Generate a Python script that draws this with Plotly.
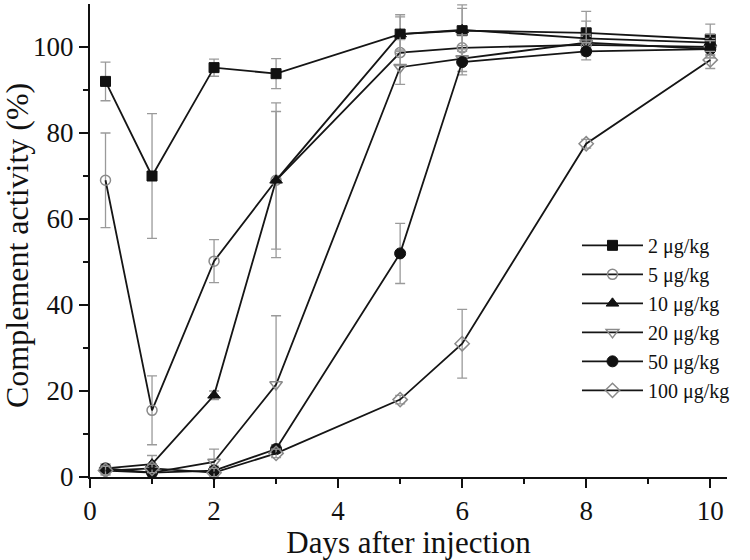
import plotly.graph_objects as go

days = [0.25, 1, 2, 3, 5, 6, 8, 10]

series_names = ["2 μg/kg", "5 μg/kg", "10 μg/kg", "20 μg/kg", "50 μg/kg", "100 μg/kg"]

dose_2 = [92, 70, 95.2, 93.8, 103, 103.8, 103.3, 101.8]
dose_2_err = [4.5, 14.5, 2, 3.5, 4.5, 6, 5, 3.5]

dose_5 = [69, 15.5, 50.2, 69, 98.7, 99.8, 100.5, 100]
dose_5_err = [11, 8, 5, 18, 3, 3, 2, 2]

dose_10 = [2, 3, 19, 69, 103, 104, 102, 101]
dose_10_err = [1, 2, 1, 16, 4, 5, 4, 2]

dose_20 = [1.5, 1, 3.5, 21.5, 95.3, 97.3, 101, 99.5]
dose_20_err = [1, 1, 3, 16, 4, 3, 2, 2]

dose_50 = [2, 1, 1.5, 6.5, 52, 96.5, 99, 99.5]
dose_50_err = [1, 1, 1, 1, 7, 3, 2, 2]

dose_100 = [1.5, 2, 1, 5.5, 18, 31, 77.5, 97]
dose_100_err = [1, 1, 1, 1, 1, 8, 1, 2]

values = [dose_2, dose_5, dose_10, dose_20, dose_50, dose_100]
errors = [dose_2_err, dose_5_err, dose_10_err, dose_20_err, dose_50_err, dose_100_err]

marker_styles = [
    dict(symbol="square", size=10, color="#111111", line=dict(color="#111111", width=1)),
    dict(symbol="circle-open", size=10, color="#8a8a8a", line=dict(color="#8a8a8a", width=1.5)),
    dict(symbol="triangle-up", size=11, color="#111111", line=dict(color="#111111", width=1)),
    dict(symbol="triangle-down-open", size=11, color="#8a8a8a", line=dict(color="#8a8a8a", width=1.5)),
    dict(symbol="circle", size=11, color="#111111", line=dict(color="#111111", width=1)),
    dict(symbol="diamond-open", size=11, color="#8a8a8a", line=dict(color="#8a8a8a", width=1.5)),
]

fig = go.Figure()
for name, ys, es, mk in zip(series_names, values, errors, marker_styles):
    fig.add_trace(go.Scatter(
        x=days, y=ys, name=name, mode="lines+markers",
        line=dict(color="#151515", width=1.8),
        marker=mk,
        error_y=dict(type="data", array=es, visible=True, color="#9a9a9a", thickness=1.3, width=5),
        cliponaxis=False,
    ))

font_family = "Liberation Serif, Times New Roman, serif"

fig.update_layout(
    width=750, height=560,
    margin=dict(l=90, r=23, t=4, b=83, autoexpand=False),
    paper_bgcolor="white", plot_bgcolor="white",
    font=dict(family=font_family, color="#111111", size=26),
    showlegend=True,
    legend=dict(
        x=0.7645, y=0.531, xanchor="left", yanchor="top",
        bgcolor="rgba(0,0,0,0)", borderwidth=0,
        font=dict(family=font_family, size=20, color="#111111"),
        itemwidth=61, tracegroupgap=0,
    ),
    xaxis=dict(
        range=[0, 10.27], showgrid=False, zeroline=False, automargin=False,
        showline=True, linecolor="#111111", linewidth=2,
        ticks="outside", ticklen=9, tickwidth=2, tickcolor="#111111",
        tickvals=[0, 2, 4, 6, 8, 10],
        minor=dict(tickvals=[1, 3, 5, 7, 9], ticks="outside", ticklen=5, tickwidth=1.5, tickcolor="#111111"),
        tickfont=dict(family=font_family, size=27),
        title=dict(text="Days after injection", font=dict(family=font_family, size=31), standoff=2),
    ),
    yaxis=dict(
        range=[0, 110], showgrid=False, zeroline=False, automargin=False,
        showline=True, linecolor="#111111", linewidth=2,
        ticks="outside", ticklen=9, tickwidth=2, tickcolor="#111111",
        tickvals=[0, 20, 40, 60, 80, 100],
        minor=dict(tickvals=[10, 30, 50, 70, 90], ticks="outside", ticklen=5, tickwidth=1.5, tickcolor="#111111"),
        tickfont=dict(family=font_family, size=27),
    ),
    annotations=[dict(
        text="Complement activity (%)", textangle=-90,
        xref="paper", yref="paper", x=-0.115, y=0.49,
        xanchor="center", yanchor="middle", showarrow=False,
        font=dict(family=font_family, size=32, color="#111111"),
    )],
)

fig.write_html(
    "out.html",
    config={"displayModeBar": False},
    post_script="document.body.style.margin='0';document.body.style.overflow='hidden';",
)
